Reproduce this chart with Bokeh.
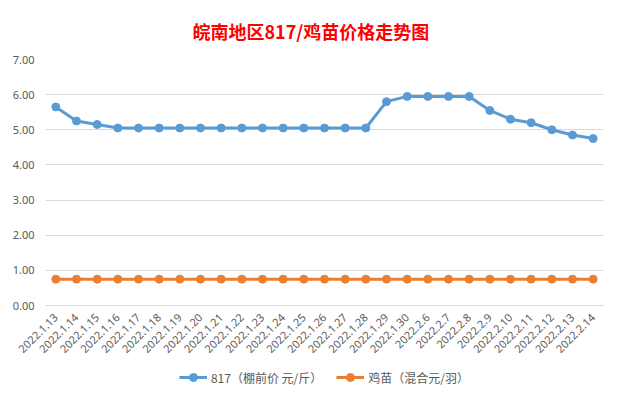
import math
from bokeh.plotting import figure
from bokeh.layouts import column
from bokeh.models import Legend, LegendItem, Title, NumeralTickFormatter, FactorRange
from bokeh.embed import file_html
from bokeh.resources import INLINE

dates = ["2022.1.13", "2022.1.14", "2022.1.15", "2022.1.16", "2022.1.17", "2022.1.18",
         "2022.1.19", "2022.1.20", "2022.1.21", "2022.1.22", "2022.1.23", "2022.1.24",
         "2022.1.25", "2022.1.26", "2022.1.27", "2022.1.28", "2022.1.29", "2022.1.30",
         "2022.2.6", "2022.2.7", "2022.2.8", "2022.2.9", "2022.2.10", "2022.2.11",
         "2022.2.12", "2022.2.13", "2022.2.14"]
price_817 = [5.65, 5.25, 5.15, 5.05, 5.05, 5.05, 5.05, 5.05, 5.05, 5.05, 5.05, 5.05,
             5.05, 5.05, 5.05, 5.05, 5.80, 5.95, 5.95, 5.95, 5.95, 5.55, 5.30, 5.20,
             5.00, 4.85, 4.75]
chick = [0.75] * 27
y_ticks = [0, 1, 2, 3, 4, 5, 6, 7]
series_names = ["817（棚前价 元/斤）", "鸡苗（混合元/羽）"]
series_colors = ["#5b9bd5", "#ed7d31"]

FONT = "Noto Sans"
CJK = "Noto Sans CJK SC"
GREY = "#595959"

p = figure(width=620, height=360, frame_width=558, frame_height=246,
           x_range=dates, y_range=(0, 7),
           output_backend="svg", toolbar_location=None,
           min_border_left=45, min_border_right=17, min_border_top=54, min_border_bottom=10)

p.title = Title(text="皖南地区817/鸡苗价格走势图", align="left", offset=147, standoff=31,
                text_color="#ff0000", text_font=CJK, text_font_size="18px",
                text_font_style="bold")

p.background_fill_color = "white"
p.border_fill_color = "white"
p.outline_line_color = None

p.xgrid.grid_line_color = None
p.ygrid.grid_line_color = "#d9d9d9"
p.yaxis.ticker = y_ticks
p.yaxis.formatter = NumeralTickFormatter(format="0.00")

for ax in (p.xaxis[0], p.yaxis[0]):
    ax.major_tick_line_color = None
    ax.minor_tick_line_color = None
    ax.major_label_text_color = GREY
    ax.major_label_text_font = FONT
    ax.major_label_text_font_size = "11px"
p.yaxis.axis_line_color = None
p.yaxis.major_label_standoff = 5
p.xaxis.axis_line_color = "#d9d9d9"
p.xaxis.major_label_orientation = math.pi / 4
p.xaxis.major_label_standoff = 4

all_series = [price_817, chick]
for vals, col in zip(all_series, series_colors):
    p.line(dates, vals, line_color=col, line_width=3)
    p.scatter(dates, vals, size=8, fill_color=col, line_color=col)

# legend strip below the chart (its own renderers sit outside its visible range)
p2 = figure(width=620, height=36, x_range=FactorRange(*dates), y_range=(100, 101),
            x_axis_location=None, y_axis_location=None,
            output_backend="svg", toolbar_location=None,
            min_border=0)
p2.outline_line_color = None
p2.grid.grid_line_color = None
p2.background_fill_color = "white"
p2.border_fill_color = "white"

items = []
for name, vals, col in zip(series_names, all_series, series_colors):
    rl = p2.line(dates, vals, line_color=col, line_width=3)
    rs = p2.scatter(dates, vals, size=8, fill_color=col, line_color=col)
    items.append(LegendItem(label=name, renderers=[rl, rs]))

legend = Legend(items=items, orientation="horizontal", location="center",
                label_text_font=CJK, label_text_font_size="12px", label_text_color=GREY,
                border_line_color=None, background_fill_alpha=0,
                glyph_width=28, label_standoff=4, spacing=14, margin=0, padding=2)
p2.add_layout(legend, "center")

layout = column(p, p2, spacing=0)
open("out.html", "w").write(file_html(layout, INLINE))
